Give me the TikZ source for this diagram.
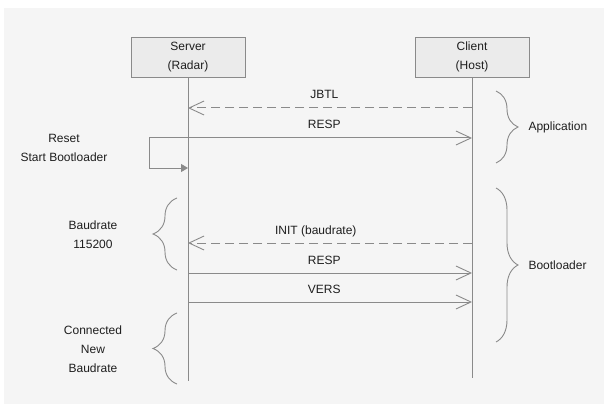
\documentclass[tikz,border=0pt]{standalone}
\usepackage{fontspec}
\setmainfont{Liberation Sans}
\usetikzlibrary{positioning, arrows.meta, decorations.pathreplacing}

\definecolor{bgcol}{HTML}{F5F5F5}
\definecolor{linecol}{HTML}{8A8A8A}
\definecolor{boxcol}{HTML}{EBEBEB}
\definecolor{txtcol}{HTML}{1E1E1E}

\tikzset{
  actor/.style={draw=linecol, fill=boxcol, line width=0.9pt, minimum width=114pt, minimum height=40pt, align=center, font=\fontsize{12}{19}\selectfont},
  life/.style={draw=linecol, line width=1pt},
  msg/.style={draw=linecol, line width=1pt, -{Straight Barb[length=15pt, width=14pt, line width=0.9pt]}},
  reply/.style={msg, dash pattern=on 9pt off 5pt},
  lbl/.style={above=6pt, inner sep=0pt, text height=8pt, text depth=2.5pt},
  note/.style={align=center, font=\fontsize{12}{19}\selectfont},
  grp/.style={draw=linecol, line width=0.9pt, decorate, decoration={brace, amplitude=#1}},
  grp/.default=22pt
}

\begin{document}
\begin{tikzpicture}[x=1pt, y=-1pt, font=\fontsize{12}{14}\selectfont, every node/.style={text=txtcol}]

    % background
    \useasboundingbox[fill=white] (0,0) rectangle (604,406);
    \fill[bgcol] (4,8) rectangle (604,404);

    % actors
    \node[actor] (server) at (188,57) {Server\\(Radar)};
    \node[actor] (client) at (472,57) {Client\\(Host)};

    % lifelines
    \coordinate (sEnd) at (188,381);
    \coordinate (cEnd) at (472,378);
    \draw[life] (server.south) -- (sEnd);
    \draw[life] (client.south) -- (cEnd);

    % points on the lifelines
    \coordinate (s1) at (188,108);  \coordinate (c1) at (472,108);
    \coordinate (s2) at (188,138);  \coordinate (c2) at (472,138);
    \coordinate (s3) at (188,168);
    \coordinate (loopA) at (149,138);
    \coordinate (loopB) at (149,168);
    \coordinate (s4) at (188,243);  \coordinate (c4) at (472,243);
    \coordinate (s5) at (188,273);  \coordinate (c5) at (472,273);
    \coordinate (s6) at (188,302);  \coordinate (c6) at (472,302);

    % messages
    \draw[reply] (c1) -- node[lbl, pos=0.52] {JBTL} (s1);
    \draw[msg] (s2) -- node[lbl, pos=0.48] {RESP} (c2);
    \draw[life, -{Triangle[length=7pt, width=8pt]}] (s2) -- (loopA) -- (loopB) -- (s3);
    \draw[reply] (c4) -- node[lbl, pos=0.55] {INIT (baudrate)} (s4);
    \draw[msg] (s5) -- node[lbl, pos=0.48] {RESP} (c5);
    \draw[msg] (s6) -- node[lbl, pos=0.48] {VERS} (c6);

    % right braces
    \coordinate (appTop) at (496,91);   \coordinate (appBot) at (496,163);
    \coordinate (bootTop) at (496,188); \coordinate (bootBot) at (496,342);
    \draw[grp] (appTop) -- (appBot);
    \draw[grp] (bootTop) -- (bootBot);
    \node[anchor=west] (app) at (525,127) {Application};
    \node[anchor=west] (boot) at (525,265) {Bootloader};

    % left braces
    \coordinate (baudTop) at (177,198); \coordinate (baudBot) at (177,270);
    \coordinate (connTop) at (177,313); \coordinate (connBot) at (177,384);
    \draw[grp=24pt] (baudBot) -- (baudTop);
    \draw[grp=24pt] (connBot) -- (connTop);

    % left notes
    \node[note] (reset) at (64,147.5) {Reset\\Start Bootloader};
    \node[note] (baud) at (93,234.5) {Baudrate\\115200};
    \node[note] (conn) at (93,349) {Connected\\New\\Baudrate};

\end{tikzpicture}
\end{document}
